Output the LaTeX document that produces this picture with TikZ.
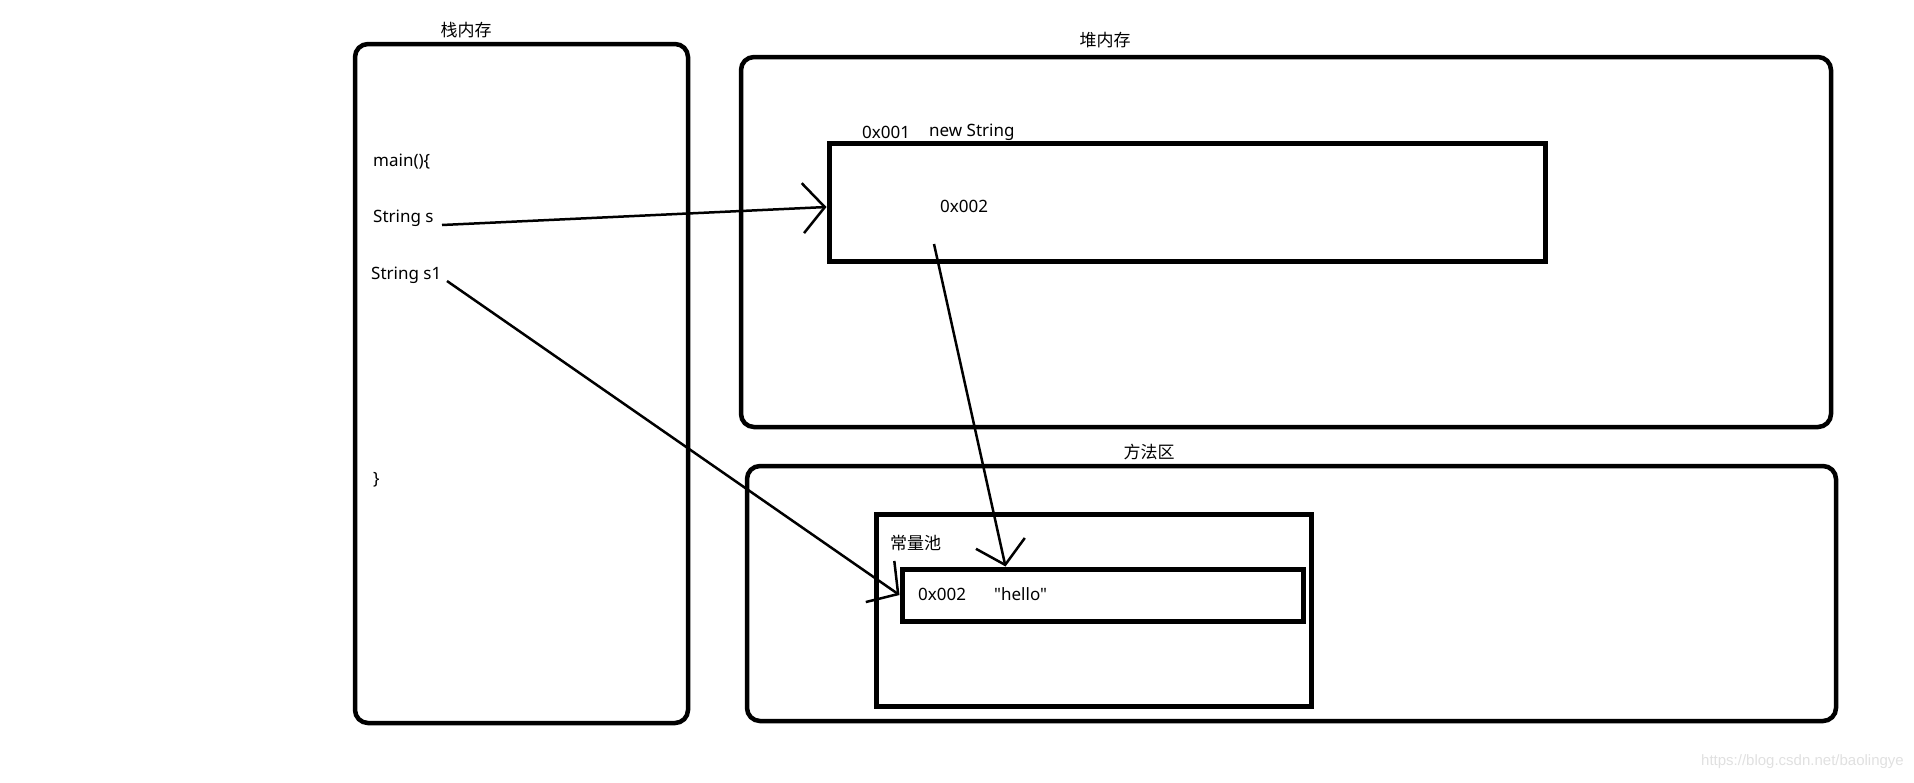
\documentclass[tikz,border=0pt]{standalone}
\usepackage{fontspec}
\setmainfont{Noto Sans}
\newfontfamily\latinf{Noto Sans}
\newfontfamily\cjk{Noto Sans CJK SC}
\newfontfamily\wmfont{Liberation Sans}
\usetikzlibrary{arrows.meta}
\begin{document}
\begin{tikzpicture}[x=1pt,y=-1pt,
  outerbox/.style={draw, line width=4.5pt, rounded corners=13pt, inner sep=0pt},
  innerbox/.style={draw, line width=5pt, inner sep=0pt},
  txt/.style={inner sep=0pt, anchor=west, font=\latinf\fontsize{17pt}{20pt}\selectfont},
  ttl/.style={inner sep=0pt, font=\cjk\fontsize{17pt}{20pt}\selectfont},
  ref/.style={line width=2.5pt, -{Straight Barb[length=22pt,width=50pt]}}]
\useasboundingbox (0,0) rectangle (1914,782);
% boxes
\node[outerbox, minimum width=333pt, minimum height=679pt] (stack) at (521.5,383.5) {};
\node[outerbox, minimum width=1090pt, minimum height=370pt] (heap) at (1286,242) {};
\node[innerbox, minimum width=716pt, minimum height=118pt] (heapobj) at (1187,202) {};
\node[outerbox, minimum width=1089pt, minimum height=255pt] (method) at (1291.5,593.5) {};
\node[innerbox, minimum width=435pt, minimum height=192pt] (pool) at (1093.5,610) {};
\node[innerbox, minimum width=401pt, minimum height=52pt] (hello) at (1102.5,595) {};
% titles
\node[ttl] (stackt) at (466,30) {栈内存};
\node[ttl] (heapt) at (1105,40) {堆内存};
\node[ttl] (methodt) at (1149,452) {方法区};
\node[ttl, anchor=west] (poolt) at (890,543) {常量池};
% stack texts
\node[txt] (main) at (373,162) {main()\{};
\node[txt] (s) at (373,218) {String s};
\node[txt] (s1) at (371,275) {String s1};
\node[txt] (close) at (373,480) {\}};
% heap texts
\node[txt] (addr1) at (862,132) {0x001};
\node[txt] (newstr) at (929,132) {new String};
\node[txt] (addr2) at (940,206) {0x002};
% pool texts
\node[txt] (addr3) at (918,594) {0x002};
\node[txt] (hellot) at (994,594) {"hello"};
% watermark
\node[inner sep=0pt, anchor=east, text=black!12, font=\wmfont\fontsize{15pt}{18pt}\selectfont] (wm) at (1904,762) {https://blog.csdn.net/baolingye};
% connectors
\coordinate (sStart) at (442,225);
\coordinate (s1Start) at (447,281);
\coordinate (objStart) at (934,244);
\draw[ref] (sStart) -- ([yshift=-5pt]heapobj.west);
\draw[ref] (s1Start) -- (hello.west);
\draw[ref] (objStart) -- ([xshift=106pt]hello.north west);
\end{tikzpicture}
\end{document}
